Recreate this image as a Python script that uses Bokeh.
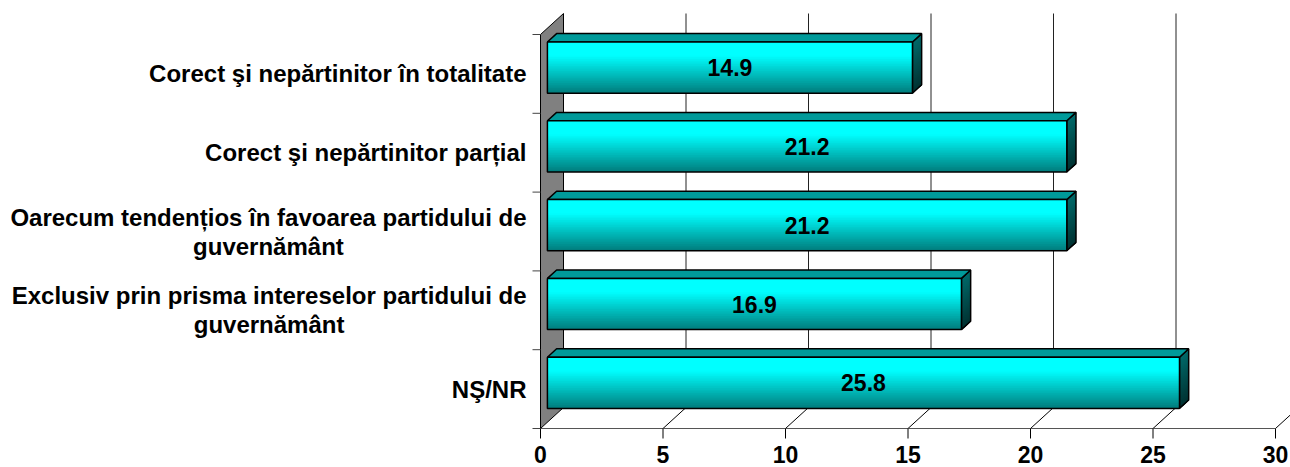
from bokeh.plotting import figure
from bokeh.models import Range1d
from bokeh.embed import file_html
from bokeh.resources import INLINE
from bokeh.core.properties import value

# ---------------- data ----------------
categories = [
    "Corect şi nepărtinitor în totalitate",
    "Corect şi nepărtinitor parțial",
    "Oarecum tendențios în favoarea partidului de\nguvernământ",
    "Exclusiv prin prisma intereselor partidului de\nguvernământ",
    "NŞ/NR",
]
values = [14.9, 21.2, 21.2, 16.9, 25.8]
x_ticks = [0, 5, 10, 15, 20, 25, 30]
x_tick_labels = ["0", "5", "10", "15", "20", "25", "30"]

# ---------------- layout constants ----------------
FW, FH = 1290, 467          # frame size (px)
PX0 = 540                   # frame px where value 0 sits
PY0 = 39                    # px from frame bottom up to the floor line
K = 24.5                    # px per value unit
U = 78.8                    # px per category
FS = 23                     # number font size px
FSC = 24                    # category label font size px
FONT = "Liberation Sans"

DX = 23.0 / K               # depth offset (value units)
DY = 21.0 / U               # depth offset (category units)
F0, F1 = 0.3, 0.7           # bar depth fraction
BW = 0.65                   # bar width in category units

p = figure(frame_width=FW, frame_height=FH, output_backend="svg",
           toolbar_location=None, y_axis_location=None, x_axis_location=None,
           x_range=Range1d(-PX0 / K, (FW - PX0) / K),
           y_range=Range1d(-PY0 / U, (FH - PY0) / U),
           min_border_left=0, min_border_right=0, min_border_top=0, min_border_bottom=0)
p.outline_line_color = None
p.xgrid.visible = False
p.ygrid.visible = False
p.background_fill_color = "white"
p.border_fill_color = "white"

n = len(categories)
top = n  # top of wall (front) in category units
xmax = max(x_ticks)

# back wall gridlines
gx = [t + DX for t in x_ticks if 0 < t < xmax]
p.segment(x0=gx, y0=[DY] * len(gx), x1=gx, y1=[top + DY] * len(gx),
          line_color="#222222", line_width=1)
# floor diagonals
fx = [t for t in x_ticks if t > 0]
p.segment(x0=fx, y0=[0] * len(fx), x1=[t + DX for t in fx], y1=[DY] * len(fx),
          line_color="black", line_width=1)
# front floor line
p.segment(x0=[0], y0=[0], x1=[xmax], y1=[0], line_color="#555555", line_width=1)
# value-axis ticks and labels
p.segment(x0=x_ticks, y0=[0] * len(x_ticks), x1=x_ticks,
          y1=[-10 / U] * len(x_ticks), line_color="black", line_width=1)
p.text(x=x_ticks, y=[-17 / U] * len(x_ticks), text=x_tick_labels,
       text_font=value(FONT), text_font_style="bold", text_font_size=f"{FS}px",
       text_align="center", text_baseline="top", text_color="black")

# left wall
p.patch([0, 0, DX, DX], [0, top, top + DY, DY],
        fill_color="#808080", line_color="black", line_width=1)
# category ticks
p.segment(x0=[-8 / K] * (n + 1), y0=list(range(n + 1)), x1=[0] * (n + 1),
          y1=list(range(n + 1)), line_color="#444444", line_width=1)

# bars (category 0 at the top)
x0 = F0 * DX
ddx, ddy = (F1 - F0) * DX, (F1 - F0) * DY
NS = 30


def mix(c1, c2, t):
    return "#%02x%02x%02x" % tuple(int(round(a + (b - a) * t)) for a, b in zip(c1, c2))


for k, (cat, v) in enumerate(zip(categories, values)):
    i = n - 1 - k
    yb = i + (1 - BW) / 2 + F0 * DY
    yt = yb + BW
    # side face (gradient, overlapping strips from top to bottom)
    for s in range(NS):
        t0 = s / NS
        ya = yt - (yt - yb) * t0
        p.patch([x0 + v, x0 + v, x0 + v + ddx, x0 + v + ddx],
                [yb, ya, ya + ddy, yb + ddy],
                fill_color=mix((0, 105, 105), (0, 48, 48), t0),
                line_color=None)
    p.patch([x0 + v, x0 + v, x0 + v + ddx, x0 + v + ddx],
            [yb, yt, yt + ddy, yb + ddy], fill_color=None,
            line_color="black", line_width=1.5)
    # top face
    p.patch([x0, x0 + v, x0 + v + ddx, x0 + ddx],
            [yt, yt, yt + ddy, yt + ddy], fill_color="#009a9a",
            line_color="black", line_width=1.5)
    # front face gradient (overlapping strips)
    for s in range(NS):
        t0 = s / NS
        tt = max(0.0, (t0 - 0.25) / 0.75)
        col = mix((0, 255, 255), (0, 120, 120), tt)
        p.quad(left=[x0], right=[x0 + v], top=[yt - (yt - yb) * t0],
               bottom=[yb], fill_color=col, line_color=None)
    p.quad(left=[x0], right=[x0 + v], top=[yt], bottom=[yb], fill_color=None,
           line_color="black", line_width=1.5)
    # value label
    p.text(x=[x0 + v / 2], y=[(yb + yt) / 2], text=[f"{v:.1f}"],
           text_font=value(FONT), text_font_style="bold",
           text_font_size=f"{FS}px", text_align="center",
           text_baseline="middle", text_color="black")

# category labels
W = {"O": 778, "a": 556, "r": 389, "e": 556, "c": 556, "u": 611, "m": 889,
     " ": 278, "t": 333, "n": 611, "d": 611, "ț": 333, "i": 278, "o": 611,
     "s": 556, "î": 278, "f": 333, "v": 556, "p": 611, "l": 278, "E": 667,
     "x": 556, "g": 611, "ă": 556, "â": 556, "C": 722, "ş": 556, "N": 722,
     "Ş": 667, "/": 278, "R": 722}
LX = -14 / K
LH = 29 / U
for k, cat in enumerate(categories):
    i = n - 1 - k
    yc = i + 0.5
    lines = cat.split("\n")
    if len(lines) == 1:
        p.text(x=[LX], y=[yc], text=[cat], text_font=value(FONT),
               text_font_style="bold", text_font_size=f"{FSC}px",
               text_align="right", text_baseline="middle", text_color="black")
    else:
        w1 = sum(W.get(ch, 556) for ch in lines[0]) / 1000 * FSC / K
        cx = LX - w1 / 2
        p.text(x=[LX], y=[yc + LH / 2], text=[lines[0]], text_font=value(FONT),
               text_font_style="bold", text_font_size=f"{FSC}px",
               text_align="right", text_baseline="middle", text_color="black")
        p.text(x=[cx], y=[yc - LH / 2], text=[lines[1]], text_font=value(FONT),
               text_font_style="bold", text_font_size=f"{FSC}px",
               text_align="center", text_baseline="middle", text_color="black")

open("out.html", "w").write(file_html(p, INLINE))
